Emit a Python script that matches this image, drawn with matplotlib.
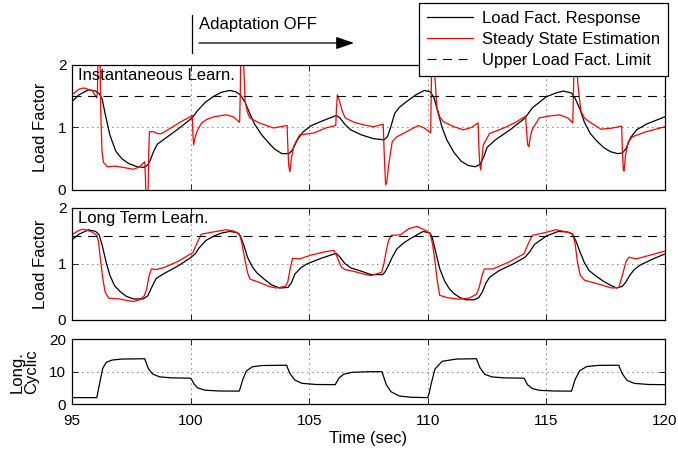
import matplotlib
matplotlib.use("Agg")
import matplotlib.pyplot as plt
from matplotlib.lines import Line2D

plt.rcParams['font.family'] = ['Liberation Sans', 'DejaVu Sans']
plt.rcParams['font.size'] = 11

# ---- data ----
UPPER_LIMIT = 1.5
x_ticks = [95, 100, 105, 110, 115, 120]

# Instantaneous learning: load factor response
t_inst_resp = [95.0, 95.3, 95.7, 96.0, 96.15, 96.28, 96.4, 96.6, 96.85, 97.1, 97.4, 97.75, 98.05,
               98.2, 98.3, 98.45, 98.6, 98.85, 99.5, 100.0, 100.15, 100.3, 100.65, 101.0, 101.3,
               101.65, 101.9, 102.1, 102.3, 102.5, 102.7, 103.0, 103.3, 103.55, 103.85, 104.15,
               104.3, 104.5, 104.75, 105.1, 105.6, 106.15, 106.3, 106.5, 106.75, 107.2, 107.7,
               108.15, 108.3, 108.45, 108.6, 108.8, 109.1, 109.5, 109.85, 110.1, 110.25, 110.4,
               110.6, 110.8, 111.1, 111.4, 111.7, 112.0, 112.2, 112.35, 112.5, 112.85, 113.5,
               114.1, 114.4, 114.7, 115.0, 115.4, 115.7, 116.05, 116.2, 116.4, 116.6, 116.85,
               117.1, 117.4, 117.7, 118.0, 118.2, 118.35, 118.55, 118.8, 119.2, 119.6, 120.0]
lf_inst_resp = [1.41, 1.52, 1.60, 1.58, 1.54, 1.45, 1.22, 0.88, 0.62, 0.50, 0.42, 0.37, 0.36,
                0.40, 0.47, 0.62, 0.73, 0.80, 0.98, 1.13, 1.19, 1.27, 1.41, 1.50, 1.56,
                1.59, 1.57, 1.52, 1.40, 1.22, 1.05, 0.88, 0.75, 0.65, 0.58, 0.58,
                0.64, 0.80, 0.93, 1.03, 1.11, 1.19, 1.15, 1.05, 0.96, 0.88, 0.82,
                0.80, 0.85, 1.02, 1.22, 1.32, 1.41, 1.52, 1.59, 1.57, 1.48, 1.28,
                1.00, 0.80, 0.60, 0.46, 0.39, 0.37, 0.41, 0.52, 0.68, 0.80, 0.97,
                1.15, 1.31, 1.40, 1.49, 1.55, 1.58, 1.55, 1.47, 1.30, 1.08, 0.90,
                0.79, 0.68, 0.61, 0.58, 0.59, 0.66, 0.84, 0.96, 1.05, 1.11, 1.17]

# Instantaneous learning: steady state estimation
t_inst_est = [95.0, 95.3, 95.5, 95.85, 96.05, 96.08, 96.11, 96.17, 96.22, 96.27, 96.33, 96.5, 96.8,
              97.0, 97.3, 97.6, 97.85, 98.07, 98.1, 98.13, 98.2, 98.24, 98.27, 98.45, 98.6, 98.78,
              99.13, 99.6, 100.08, 100.1, 100.13, 100.2, 100.3, 100.47, 100.7, 101.0, 101.5,
              101.8, 102.07, 102.1, 102.13, 102.18, 102.3, 102.4, 102.5, 102.9, 103.5, 104.07,
              104.1, 104.14, 104.19, 104.25, 104.35, 104.6, 105.2, 105.7, 106.12, 106.15, 106.19,
              106.28, 106.4, 106.52, 106.9, 107.3, 107.7, 108.12, 108.16, 108.22, 108.27, 108.35,
              108.5, 108.7, 109.1, 109.6, 109.85, 110.12, 110.15, 110.18, 110.25, 110.3, 110.38,
              110.5, 110.66, 111.1, 111.5, 111.85, 112.12, 112.15, 112.19, 112.23, 112.28, 112.34,
              112.6, 113.2, 113.7, 114.12, 114.16, 114.21, 114.26, 114.32, 114.4, 114.7, 115.1,
              115.55, 115.9, 116.11, 116.15, 116.18, 116.26, 116.32, 116.45, 116.6, 116.8, 117.3,
              117.8, 118.17, 118.2, 118.24, 118.27, 118.33, 118.45, 118.63, 119.2, 119.6, 120.0]
lf_inst_est = [1.52, 1.61, 1.63, 1.59, 1.47, 1.60, 2.6, 2.6, 1.2, 0.62, 0.44, 0.37, 0.38,
               0.37, 0.35, 0.33, 0.37, 0.45, 0.2, -0.3, -0.3, 0.6, 0.93, 0.93, 0.90, 0.90,
               0.98, 1.09, 1.19, 0.9, 0.72, 0.85, 0.96, 1.07, 1.13, 1.17, 1.20,
               1.17, 1.08, 1.6, 2.6, 2.6, 1.42, 1.24, 1.15, 1.07, 0.99, 1.03,
               0.7, 0.38, 0.29, 0.5, 0.70, 0.88, 0.91, 0.99, 1.03, 1.3, 1.52,
               1.42, 1.25, 1.15, 1.08, 1.04, 1.01, 1.05, 0.6, 0.08, 0.12, 0.40,
               0.77, 0.85, 0.93, 1.03, 0.99, 0.91, 1.7, 2.6, 2.4, 1.8, 1.32,
               1.17, 1.09, 1.01, 0.96, 1.00, 1.07, 0.7, 0.40, 0.32, 0.5, 0.72,
               0.90, 0.99, 1.08, 1.18, 0.95, 0.72, 0.69, 0.85, 0.97, 1.15, 1.18,
               1.20, 1.15, 1.07, 1.8, 2.6, 2.3, 1.7, 1.26, 1.15, 1.09, 0.97,
               0.99, 1.02, 0.6, 0.32, 0.30, 0.55, 0.77, 0.85, 0.93, 0.97, 1.01]

# Long term learning: load factor response
t_long_resp = [95.0, 95.3, 95.7, 96.0, 96.15, 96.28, 96.45, 96.6, 96.8, 97.05, 97.3, 97.6, 98.0,
               98.2, 98.35, 98.55, 98.85, 99.5, 100.0, 100.2, 100.35, 100.65, 101.0, 101.3, 101.65,
               101.95, 102.1, 102.25, 102.4, 102.6, 102.8, 103.1, 103.4, 103.75, 104.1, 104.25,
               104.4, 104.65, 104.9, 105.5, 106.14, 106.3, 106.5, 106.75, 107.2, 107.6, 108.1,
               108.2, 108.35, 108.5, 108.7, 109.0, 109.3, 109.8, 110.1, 110.2, 110.35, 110.5,
               110.7, 110.9, 111.1, 111.35, 111.6, 111.95, 112.15, 112.3, 112.45, 112.6, 113.0,
               113.6, 114.1, 114.3, 114.5, 114.8, 115.0, 115.5, 115.9, 116.1, 116.25, 116.4,
               116.6, 116.8, 117.1, 117.4, 117.7, 117.95, 118.2, 118.35, 118.5, 118.7, 118.95,
               119.5, 120.0]
lf_long_resp = [1.43, 1.53, 1.61, 1.58, 1.52, 1.33, 1.02, 0.80, 0.61, 0.50, 0.42, 0.375, 0.375,
                0.43, 0.57, 0.74, 0.82, 0.97, 1.11, 1.18, 1.28, 1.42, 1.50, 1.55, 1.58,
                1.56, 1.50, 1.33, 1.12, 0.95, 0.84, 0.73, 0.63, 0.57, 0.58, 0.66,
                0.82, 0.93, 1.00, 1.10, 1.19, 1.12, 1.01, 0.93, 0.87, 0.81, 0.81,
                0.86, 0.98, 1.12, 1.27, 1.38, 1.46, 1.58, 1.55, 1.45, 1.18, 0.92,
                0.70, 0.56, 0.47, 0.40, 0.36, 0.36, 0.40, 0.50, 0.66, 0.76, 0.88,
                1.00, 1.12, 1.22, 1.35, 1.44, 1.50, 1.58, 1.57, 1.53, 1.40, 1.23,
                1.02, 0.88, 0.78, 0.69, 0.62, 0.57, 0.60, 0.68, 0.79, 0.90, 0.98,
                1.09, 1.18]

# Long term learning: steady state estimation
t_long_est = [95.0, 95.3, 95.5, 95.85, 96.05, 96.12, 96.2, 96.3, 96.4, 96.55, 96.8, 97.0, 97.3,
              97.6, 97.85, 98.05, 98.15, 98.25, 98.35, 98.55, 98.85, 99.5, 100.0, 100.1, 100.25,
              100.45, 100.95, 101.5, 101.8, 102.05, 102.15, 102.28, 102.4, 102.5, 102.9, 103.3,
              103.6, 104.0, 104.1, 104.2, 104.3, 104.6, 105.1, 105.7, 106.05, 106.2, 106.35,
              106.5, 106.85, 107.3, 107.6, 108.05, 108.15, 108.25, 108.35, 108.46, 108.85, 109.2,
              109.55, 109.9, 110.1, 110.2, 110.3, 110.4, 110.5, 110.8, 111.3, 111.75, 112.05,
              112.15, 112.28, 112.38, 112.74, 113.4, 114.05, 114.2, 114.4, 114.85, 115.4, 115.75,
              116.1, 116.2, 116.3, 116.42, 116.6, 117.2, 117.75, 118.05, 118.2, 118.35, 118.48,
              118.78, 119.4, 120.0]
lf_long_est = [1.52, 1.60, 1.62, 1.57, 1.51, 1.40, 1.10, 0.75, 0.50, 0.39, 0.38, 0.375, 0.35,
               0.33, 0.36, 0.43, 0.55, 0.78, 0.91, 0.90, 0.93, 1.05, 1.18, 1.20, 1.35,
               1.53, 1.57, 1.61, 1.59, 1.54, 1.40, 1.10, 0.85, 0.73, 0.67, 0.60,
               0.57, 0.60, 0.68, 0.92, 1.10, 1.09, 1.16, 1.22, 1.24, 1.10, 0.95,
               0.90, 0.87, 0.82, 0.79, 0.85, 1.00, 1.24, 1.42, 1.51, 1.52, 1.63,
               1.67, 1.60, 1.54, 1.35, 1.05, 0.70, 0.44, 0.40, 0.37, 0.39, 0.46,
               0.56, 0.78, 0.91, 0.91, 1.03, 1.18, 1.33, 1.51, 1.55, 1.61, 1.58,
               1.54, 1.38, 1.05, 0.80, 0.71, 0.64, 0.57, 0.58, 0.80, 1.04, 1.12,
               1.09, 1.16, 1.23]

# Longitudinal cyclic input
t_cyc = [95.0, 96.05, 96.12, 96.2, 96.3, 96.45, 96.7, 97.1, 98.07, 98.13, 98.22, 98.4, 98.7, 99.2,
         100.0, 100.06, 100.15, 100.3, 100.6, 101.2, 102.05, 102.1, 102.2, 102.35, 102.6, 103.0,
         104.05, 104.1, 104.2, 104.4, 104.7, 105.3, 106.1, 106.15, 106.25, 106.45, 106.8, 107.5,
         108.07, 108.13, 108.25, 108.45, 108.8, 109.3, 110.0, 110.06, 110.15, 110.3, 110.6, 111.2,
         112.05, 112.1, 112.2, 112.4, 112.7, 113.2, 114.05, 114.1, 114.2, 114.4, 114.7, 115.3,
         116.05, 116.1, 116.2, 116.4, 116.7, 117.2, 118.05, 118.1, 118.2, 118.4, 118.7, 119.3, 120.0]
cyc = [2.0, 2.0, 4.5, 7.5, 11.0, 12.9, 13.6, 13.9, 14.0, 12.8, 11.0, 9.3, 8.4, 8.1,
       8.0, 7.4, 6.2, 5.0, 4.3, 4.05, 4.0, 5.0, 7.5, 10.2, 11.5, 11.9,
       12.0, 11.0, 9.3, 7.4, 6.4, 6.05, 6.0, 6.7, 8.0, 9.2, 9.8, 10.0,
       10.0, 8.6, 6.0, 3.8, 2.5, 2.1, 2.0, 3.5, 6.5, 10.8, 13.2, 13.9,
       14.0, 13.0, 11.2, 9.2, 8.4, 8.1, 8.0, 7.4, 6.0, 4.8, 4.25, 4.05,
       4.0, 5.0, 7.5, 10.3, 11.6, 11.95, 12.0, 11.0, 9.3, 7.3, 6.4, 6.05, 6.0]

LABEL_SIZE = 12
TICK_SIZE = 11


def style_axes(ax, yticks):
    """MATLAB-like box: inward ticks on all sides, dotted grid."""
    ax.set_xlim(95, 120)
    ax.set_xticks(x_ticks)
    ax.set_yticks(yticks)
    ax.set_ylim(yticks[0], yticks[-1])
    ax.tick_params(direction='in', top=True, right=True, length=4, width=0.6, labelsize=TICK_SIZE)
    ax.tick_params(axis='x', pad=7)
    ax.tick_params(axis='y', pad=4)
    ax.grid(True, color='k', linestyle=(0, (1, 5)), linewidth=0.6)
    for spine in ax.spines.values():
        spine.set_linewidth(0.9)


def draw_load_panel(ax, t_resp, lf_resp, t_est, lf_est, title):
    ax.plot(t_resp, lf_resp, color='k', linewidth=0.9)
    ax.plot(t_est, lf_est, color='r', linewidth=0.9)
    ax.axhline(UPPER_LIMIT, color='k', linewidth=0.8, linestyle=(0, (8, 6)))
    style_axes(ax, [0, 1, 2])
    ax.tick_params(labelbottom=False)
    ax.set_ylabel("Load Factor", fontsize=LABEL_SIZE)
    ax.yaxis.set_label_coords(-0.04, 0.5)
    ax.text(0.01, 0.975, title, transform=ax.transAxes, va='top', ha='left', fontsize=LABEL_SIZE)


fig = plt.figure(figsize=(6.78, 4.5), dpi=100)

ax1 = fig.add_axes([0.106, 0.578, 0.875, 0.278])
ax2 = fig.add_axes([0.106, 0.289, 0.875, 0.249])
ax3 = fig.add_axes([0.106, 0.102, 0.875, 0.144])

draw_load_panel(ax1, t_inst_resp, lf_inst_resp, t_inst_est, lf_inst_est, "Instantaneous Learn.")
draw_load_panel(ax2, t_long_resp, lf_long_resp, t_long_est, lf_long_est, "Long Term Learn.")

ax3.plot(t_cyc, cyc, color='k', linewidth=0.9)
style_axes(ax3, [0, 10, 20])
ax3.set_ylabel("Long.\nCyclic", fontsize=LABEL_SIZE, linespacing=0.95)
ax3.yaxis.set_label_coords(-0.056, 0.5)
ax3.set_xlabel("Time (sec)", fontsize=LABEL_SIZE, labelpad=2)

# Legend over the top right corner
handles = [
    Line2D([], [], color='k', linewidth=0.9),
    Line2D([], [], color='r', linewidth=0.9),
    Line2D([], [], color='k', linewidth=0.8, linestyle=(0, (8, 6))),
]
labels = ["Load Fact. Response", "Steady State Estimation", "Upper Load Fact. Limit"]
leg = fig.legend(handles, labels, loc='upper right', bbox_to_anchor=(668 / 678, 1 - 3 / 450),
                 bbox_transform=fig.transFigure, fancybox=False, framealpha=1, edgecolor='k',
                 fontsize=LABEL_SIZE, handlelength=2.75, handletextpad=0.5, borderpad=0.5,
                 borderaxespad=0, labelspacing=0.35)
leg.get_frame().set_linewidth(0.9)

# "Adaptation OFF" marker
fig.add_artist(Line2D([192 / 678, 192 / 678], [1 - 15 / 450, 1 - 53 / 450], color='k', linewidth=0.9))
fig.text(199 / 678, 1 - 25 / 450, "Adaptation OFF", va='center', ha='left', fontsize=LABEL_SIZE)
fig.add_artist(matplotlib.patches.FancyArrowPatch(
    (199 / 678, 1 - 43 / 450), (354 / 678, 1 - 43 / 450), transform=fig.transFigure,
    arrowstyle='-|>,head_length=11,head_width=3.8', color='k', linewidth=0.9,
    shrinkA=0, shrinkB=0))

fig.savefig("out.png", dpi=100)
